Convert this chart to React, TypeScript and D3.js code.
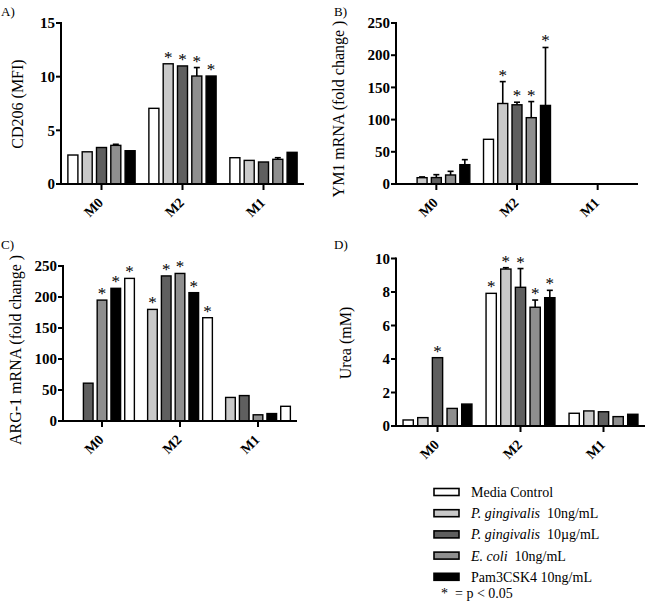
import React from "react";
import * as d3 from "d3";

const groups = ["M0", "M2", "M1"];
const seriesNames = ["Media Control", "P. gingivalis 10ng/mL", "P. gingivalis 10µg/mL", "E. coli 10ng/mL", "Pam3CSK4 10ng/mL"];

// values per group (M0, M2, M1), five bars each; null = no bar
const cd206Values = [[2.7, 3.0, 3.4, 3.6, 3.1], [7.05, 11.2, 11.0, 10.06, 10.06], [2.45, 2.2, 2.05, 2.3, 2.95]];
const cd206Errors = [[null, null, null, 3.7, null], [null, null, null, 10.85, null], [null, null, null, 2.45, null]];
const cd206Stars = [[0, 0, 0, 0, 0], [0, 1, 1, 1, 1], [0, 0, 0, 0, 0]];

const ym1Values = [[null, 9.8, 10, 14, 30], [69.4, 125, 123, 103, 122], [null, null, null, null, null]];
const ym1Errors = [[null, 11, 14.5, 19.7, 37.8], [null, 159, 127, 128, 212], [null, null, null, null, null]];
const ym1Stars = [[0, 0, 0, 0, 0], [0, 1, 1, 1, 1], [0, 0, 0, 0, 0]];

const arg1Values = [[null, 61, 195, 214, 230], [180, 234, 238, 207, 166.6], [38, 41, 10, 12, 23.7]];
const arg1Errors = [[null, null, null, null, null], [null, null, null, null, null], [null, null, null, null, null]];
const arg1Stars = [[0, 0, 1, 1, 1], [1, 1, 1, 1, 1], [0, 0, 0, 0, 0]];

const ureaValues = [[0.36, 0.5, 4.08, 1.05, 1.31], [7.92, 9.37, 8.28, 7.09, 7.66], [0.76, 0.9, 0.85, 0.56, 0.7]];
const ureaErrors = [[null, null, null, null, null], [null, 9.45, 9.4, 7.52, 8.1], [null, null, null, null, null]];
const ureaStars = [[0, 0, 1, 0, 0], [1, 1, 1, 1, 1], [0, 0, 0, 0, 0]];

const cd206Ticks = [0, 5, 10, 15];
const ym1Ticks = [0, 50, 100, 150, 200, 250];
const arg1Ticks = [0, 50, 100, 150, 200, 250];
const ureaTicks = [0, 2, 4, 6, 8, 10];

const palette = ["#ffffff", "#c9c9c9", "#5f5f5f", "#8f8f8f", "#000000"];
const standardOrder = [0, 1, 2, 3, 4];
const argOrder = [1, 2, 3, 4, 0];

const FONT = "'Liberation Serif', 'DejaVu Serif', serif";

type PanelProps = {
  letter: string; ylabel: string; x0: number; x1: number; yTop: number; yZero: number;
  max: number; ticks: number[]; values: (number | null)[][]; errors: (number | null)[][];
  stars: number[][]; order: number[]; labelX: number; labelY: number; ylabX: number; ylabY: number;
};

function Panel(p: PanelProps) {
  const y = d3.scaleLinear().domain([0, p.max]).range([p.yZero, p.yTop]);
  const xg = d3.scaleBand<string>().domain(groups).range([p.x0, p.x1]).padding(0);
  const gw = xg.bandwidth() * 0.83;
  const xi = d3.scaleBand<number>().domain([0, 1, 2, 3, 4]).range([-gw / 2, gw / 2]).paddingInner(0.3).paddingOuter(0);
  const bw = xi.bandwidth();
  return (
    <g>
      <text x={p.labelX} y={p.labelY} fontFamily={FONT} fontSize={13}>{p.letter}</text>
      <text transform={`translate(${p.ylabX},${p.ylabY}) rotate(-90)`} textAnchor="middle" fontFamily={FONT} fontSize={16} dy="0.35em">{p.ylabel}</text>
      {groups.map((g, gi) => {
        const cx = (xg(g) as number) + xg.bandwidth() / 2;
        return (
          <g key={g}>
            {p.values[gi].map((v, si) => {
              if (v === null) return null;
              const bx = cx + (xi(si) as number);
              const top = y(v);
              const err = p.errors[gi][si];
              const starBase = err !== null ? y(err) : top;
              return (
                <g key={si}>
                  {err !== null && (
                    <g stroke="#000" strokeWidth={1.6}>
                      <line x1={bx + bw / 2} x2={bx + bw / 2} y1={top} y2={y(err)} />
                      <line x1={bx + bw / 2 - 3} x2={bx + bw / 2 + 3} y1={y(err)} y2={y(err)} />
                    </g>
                  )}
                  <rect x={bx} y={top} width={bw} height={p.yZero - top} fill={palette[p.order[si]]} stroke="#000" strokeWidth={1.4} />
                  {p.stars[gi][si] ? (
                    <text x={bx + bw / 2} y={starBase - 1} textAnchor="middle" fontFamily={FONT} fontSize={17} fill="#000">*</text>
                  ) : null}
                </g>
              );
            })}
            <line x1={cx} x2={cx} y1={p.yZero} y2={p.yZero + 6} stroke="#000" strokeWidth={2} />
            <g transform={`translate(${cx - 1},${p.yZero + 16})`}>
              <text transform="rotate(-45)" textAnchor="end" fontFamily={FONT} fontWeight="bold" fontSize={14} dy="0.35em">{g}</text>
            </g>
          </g>
        );
      })}
      <line x1={p.x0} x2={p.x1} y1={p.yZero} y2={p.yZero} stroke="#000" strokeWidth={2} />
      <line x1={p.x0} x2={p.x0} y1={p.yZero + 1} y2={p.yTop - 1} stroke="#000" strokeWidth={2} />
      {p.ticks.map((t) => (
        <g key={t}>
          <line x1={p.x0 - 5} x2={p.x0} y1={y(t)} y2={y(t)} stroke="#000" strokeWidth={2} />
          <text x={p.x0 - 6} y={y(t)} dy="0.35em" textAnchor="end" fontFamily={FONT} fontWeight="bold" fontSize={15}>{t}</text>
        </g>
      ))}
    </g>
  );
}

const legendY0 = 492;
const legendStep = 21.2;

function LegendLabel({ i }: { i: number }) {
  if (i === 1) return <><tspan fontStyle="italic">P. gingivalis</tspan><tspan>{"\u00a0 10ng/mL"}</tspan></>;
  if (i === 2) return <><tspan fontStyle="italic">P. gingivalis</tspan><tspan>{"\u00a0 10µg/mL"}</tspan></>;
  if (i === 3) return <><tspan fontStyle="italic">E. coli</tspan><tspan>{"\u00a0 10ng/mL"}</tspan></>;
  return <>{seriesNames[i]}</>;
}

export default function App() {
  return (
    <svg width={650} height={604} style={{ position: "absolute", left: 0, top: 0, background: "#fff" }}>
      <rect width={650} height={604} fill="#fff" />
      <Panel letter="A)" ylabel="CD206 (MFI)" x0={61} x1={304} yTop={23} yZero={184} max={15} ticks={cd206Ticks}
        values={cd206Values} errors={cd206Errors} stars={cd206Stars} order={standardOrder}
        labelX={1} labelY={16} ylabX={17} ylabY={104} />
      <Panel letter="B)" ylabel="YM1 mRNA (fold change )" x0={396} x1={638} yTop={23} yZero={184} max={250} ticks={ym1Ticks}
        values={ym1Values} errors={ym1Errors} stars={ym1Stars} order={standardOrder}
        labelX={334} labelY={16} ylabX={338} ylabY={109} />
      <Panel letter="C)" ylabel="ARG-1 mRNA (fold change )" x0={63} x1={297} yTop={266} yZero={421} max={250} ticks={arg1Ticks}
        values={arg1Values} errors={arg1Errors} stars={arg1Stars} order={argOrder}
        labelX={1} labelY={249} ylabX={15} ylabY={350} />
      <Panel letter="D)" ylabel="Urea (mM)" x0={396} x1={645} yTop={258.5} yZero={426} max={10} ticks={ureaTicks}
        values={ureaValues} errors={ureaErrors} stars={ureaStars} order={standardOrder}
        labelX={334} labelY={249} ylabX={345} ylabY={343} />
      {seriesNames.map((s, i) => (
        <g key={s}>
          <rect x={434} y={legendY0 + i * legendStep - 3.5} width={25} height={7} fill={palette[i]} stroke="#000" strokeWidth={1.6} />
          <text x={471} y={legendY0 + i * legendStep} dy="0.35em" fontFamily={FONT} fontSize={14}><LegendLabel i={i} /></text>
        </g>
      ))}
      <text x={441} y={594} dy="0.3em" fontFamily={FONT} fontSize={14} xmlSpace="preserve">{"*  = p < 0.05"}</text>
    </svg>
  );
}
